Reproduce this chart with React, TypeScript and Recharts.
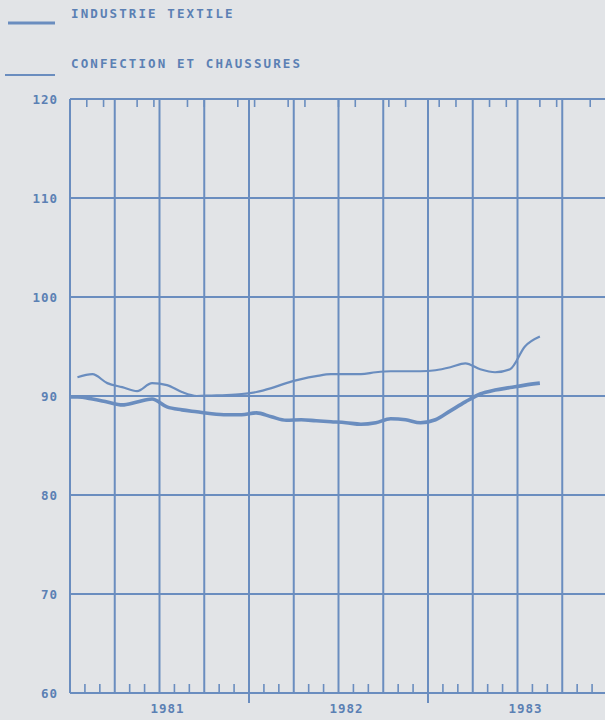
import React from 'react';
import { LineChart, Line, XAxis, YAxis, CartesianGrid, ReferenceLine, Legend } from 'recharts';

// Monthly observations, January 1981 – August 1983
const months = [
  '1981-01', '1981-02', '1981-03', '1981-04', '1981-05', '1981-06',
  '1981-07', '1981-08', '1981-09', '1981-10', '1981-11', '1981-12',
  '1982-01', '1982-02', '1982-03', '1982-04', '1982-05', '1982-06',
  '1982-07', '1982-08', '1982-09', '1982-10', '1982-11', '1982-12',
  '1983-01', '1983-02', '1983-03', '1983-04', '1983-05', '1983-06',
  '1983-07', '1983-08',
];

const textileValues = [
  89.9, 89.7, 89.4, 89.1, 89.4, 89.7, 88.9, 88.6, 88.4, 88.2, 88.1, 88.1,
  88.3, 87.9, 87.55, 87.6, 87.5, 87.4, 87.3, 87.15, 87.3, 87.7, 87.6, 87.3,
  87.6, 88.5, 89.4, 90.2, 90.6, 90.85, 91.1, 91.3,
];
const textileOpening = 89.9;

const confectionValues = [
  91.9, 92.2, 91.3, 90.9, 90.5, 91.3, 91.1, 90.4, 90.0, 90.05, 90.1, 90.2,
  90.4, 90.8, 91.3, 91.7, 92.0, 92.2, 92.2, 92.2, 92.4, 92.5, 92.5, 92.5,
  92.6, 92.9, 93.3, 92.7, 92.4, 92.7, 95.0, 96.0,
];

const seriesNames = ['INDUSTRIE TEXTILE', 'CONFECTION ET CHAUSSURES'];
const yTicks = [60, 70, 80, 90, 100, 110, 120];
const years = ['1981', '1982', '1983'];
const monthMarks = Array.from({ length: 37 }, (_, i) => i);
const quarterMarks = monthMarks.filter((m) => m % 3 === 0);

const BG = '#e2e4e7';
const INK = '#6a8dbf';
const TEXT = '#5b80b4';
const FONT = '"DejaVu Sans Mono", "Liberation Mono", monospace';

const data = [
  { t: 0, month: '1981-01-start', textile: textileOpening, confection: null },
  ...months.map((m, i) => ({
    t: i + 0.5,
    month: m,
    textile: textileValues[i],
    confection: confectionValues[i],
  })),
];

const BottomTick = (props: any) => {
  const { x, y, payload } = props;
  const m = payload.value as number;
  const isQuarter = m % 3 === 0;
  const isYearBreak = m % 12 === 0 && m > 0;
  const isMidYear = m % 12 === 6;
  return (
    <g>
      {!isQuarter && <line x1={x} x2={x} y1={y} y2={y - 9} stroke={INK} strokeWidth={1.6} />}
      {isYearBreak && <line x1={x} x2={x} y1={y} y2={y + 10} stroke={INK} strokeWidth={2} />}
      {isMidYear && (
        <text
          x={x + 8}
          y={y + 20}
          textAnchor="middle"
          fill={TEXT}
          fontFamily={FONT}
          fontWeight="bold"
          fontSize={12.5}
          letterSpacing={1}
        >
          {years[(m - 6) / 12]}
        </text>
      )}
    </g>
  );
};

const TopTick = (props: any) => {
  const { x, y, payload } = props;
  const m = payload.value as number;
  if (m % 3 === 0) return <g />;
  return <line x1={x} x2={x} y1={y} y2={y + 8} stroke={INK} strokeWidth={1.6} />;
};

const YTick = (props: any) => {
  const { x, y, payload } = props;
  return (
    <text
      x={x}
      y={y + 5}
      textAnchor="end"
      fill={TEXT}
      fontFamily={FONT}
      fontWeight="bold"
      fontSize={12.5}
      letterSpacing={1}
    >
      {payload.value}
    </text>
  );
};

const LegendContent = (props: any) => {
  const payload = [...(props.payload || [])].sort(
    (a: any, b: any) => seriesNames.indexOf(a.value) - seriesNames.indexOf(b.value)
  );
  const widths = [3.2, 2];
  return (
    <svg width={330} height={90}>
      {payload.map((p: any, i: number) => {
        const base = 18 + i * 50;
        return (
          <g key={i}>
            <line
              x1={i === 0 ? 8 : 5}
              x2={55}
              y1={base + 5 + i * 2}
              y2={base + 5 + i * 2}
              stroke={INK}
              strokeWidth={widths[i]}
            />
            <text
              x={71}
              y={base}
              fill={TEXT}
              fontFamily={FONT}
              fontWeight="bold"
              fontSize={12.5}
              letterSpacing={2.1}
            >
              {p.value}
            </text>
          </g>
        );
      })}
    </svg>
  );
};

export default function App() {
  return (
    <div
      style={{
        position: 'absolute',
        left: 0,
        top: 0,
        width: 605,
        height: 720,
        overflow: 'hidden',
        background: BG,
      }}
    >
      <LineChart
        width={640}
        height={720}
        data={data}
        margin={{ top: 0, right: 33, bottom: 0, left: 0 }}
      >
        <CartesianGrid vertical={false} stroke={INK} strokeWidth={2} />
        {quarterMarks.map((q) => (
          <ReferenceLine key={q} x={q} stroke={INK} strokeWidth={2} ifOverflow="extendDomain" />
        ))}
        <XAxis
          dataKey="t"
          type="number"
          domain={[0, 36]}
          ticks={monthMarks}
          interval={0}
          height={27}
          axisLine={false}
          tickLine={false}
          tickSize={0}
          tickMargin={0}
          tick={<BottomTick />}
          allowDataOverflow
        />
        <XAxis
          xAxisId="top"
          orientation="top"
          type="number"
          domain={[0, 36]}
          ticks={monthMarks}
          interval={0}
          height={99}
          axisLine={false}
          tickLine={false}
          tickSize={0}
          tickMargin={0}
          tick={<TopTick />}
          allowDataOverflow
        />
        <YAxis
          type="number"
          domain={[60, 120]}
          ticks={yTicks}
          width={70}
          axisLine={false}
          tickLine={false}
          tickSize={0}
          tickMargin={12}
          tick={<YTick />}
          allowDataOverflow
        />
        <Legend
          layout="vertical"
          align="center"
          verticalAlign="middle"
          content={<LegendContent />}
          wrapperStyle={{ position: 'absolute', top: 0, left: 0, width: 330, height: 90 }}
        />
        <Line
          name={seriesNames[0]}
          dataKey="textile"
          type="monotone"
          stroke={INK}
          strokeWidth={3.6}
          dot={false}
          activeDot={false}
          isAnimationActive={false}
        />
        <Line
          name={seriesNames[1]}
          dataKey="confection"
          type="monotone"
          stroke={INK}
          strokeWidth={2.2}
          dot={false}
          activeDot={false}
          isAnimationActive={false}
        />
      </LineChart>
    </div>
  );
}
